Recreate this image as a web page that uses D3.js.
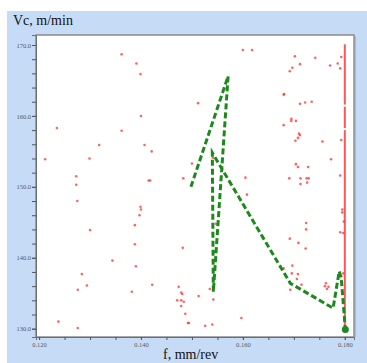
<!DOCTYPE html>
<html>
<head>
<meta charset="utf-8">
<script src="https://cdn.jsdelivr.net/npm/d3@7"></script>
<style>
body { margin: 0; background: #ffffff; }
svg { display: block; }
</style>
</head>
<body>
<svg id="chart" width="367" height="363"></svg>
<script>
// measured points (feed f, mm/rev ; cutting speed Vc, m/min)
const pointF = [0.1362,0.1391,0.1399,0.1400,0.1235,0.1362,0.1318,0.1212,0.1299,0.1273,0.1273,0.1600,0.1512,0.1407,0.1421,0.1500,0.1541,0.1415,0.1418,0.1483,0.1605,0.1618,0.1702,0.1742,0.1793,0.1712,0.1697,0.1692,0.1771,0.1786,0.1791,0.1680,0.1681,0.1712,0.1722,0.1735,0.1695,0.1695,0.1704,0.1680,0.1710,0.1712,0.1708,0.1703,0.1756,0.1793,0.1773,0.1704,0.1708,0.1728,0.1691,0.1713,0.1725,0.1729,0.1791,0.1713,0.1726,0.1275,0.1399,0.1400,0.1397,0.1300,0.1388,0.1388,0.1344,0.1390,0.1284,0.1294,0.1276,0.1382,0.1238,0.1276,0.1608,0.1547,0.1482,0.1422,0.1474,0.1479,0.1481,0.1535,0.1513,0.1542,0.1471,0.1479,0.1484,0.1479,0.1487,0.1492,0.1494,0.1526,0.1540,0.1597,0.1795,0.1795,0.1798,0.1724,0.1724,0.1797,0.1791,0.1692,0.1709,0.1723,0.1680,0.1697,0.1696,0.1708,0.1706,0.1715,0.1693,0.1763,0.1761,0.1768,0.1765,0.1797,0.1793];
const pointV = [168.7,167.4,165.9,160.0,158.3,157.9,155.9,153.9,154.0,151.5,150.3,169.3,161.8,155.9,155.0,153.3,154.1,150.9,150.9,151.2,151.3,169.3,168.4,168.2,168.3,167.3,166.8,166.3,167.1,167.4,166.7,163.0,163.1,161.7,161.9,162.0,159.6,159.3,159.3,158.7,157.5,157.3,156.9,156.5,156.4,156.6,153.9,153.2,152.8,152.8,151.2,151.2,151.2,151.2,151.6,150.4,150.6,148.0,147.2,146.8,146.0,143.9,144.6,141.9,139.6,138.8,137.7,136.1,135.5,135.2,131.0,130.1,148.9,144.8,141.4,136.2,135.9,135.1,134.9,135.6,134.6,134.1,134.0,134.0,133.8,133.2,132.1,130.8,130.8,130.4,130.6,131.5,146.8,146.4,145.1,144.9,144.0,143.5,143.6,142.7,142.1,141.3,138.5,138.9,137.8,137.7,137.0,136.2,135.5,136.4,136.0,135.9,135.6,137.8,137.4];

// red column at f = 0.180
const columnF = 0.180;
const columnSegments = [[130.0, 158.0], [158.3, 161.3], [161.6, 170.1]];

// optimisation path
const pathF = [0.1498, 0.1571, 0.1542, 0.1540, 0.1693, 0.1777, 0.1789, 0.1793, 0.1801];
const pathV = [150.0, 165.6, 135.2, 154.8, 136.4, 132.9, 138.1, 137.1, 129.9];

const xMajor = [0.120, 0.140, 0.160, 0.180];
const xMinor = [0.120,0.125,0.130,0.135,0.140,0.145,0.150,0.155,0.160,0.165,0.170,0.175,0.180];
const yMajor = [130, 140, 150, 160, 170];
const yMinor = [130,132,134,136,138,140,142,144,146,148,150,152,154,156,158,160,162,164,166,168,170];

const xLabel = "f, mm/rev";
const yLabel = "Vc, m/min";

class FeedSpeedChart {
	constructor(svgId) {
		this.svg = d3.select(svgId);
		this.box = {left: 36, right: 354, top: 35, bottom: 337};
	}

	make_scales() {
		this.x = d3.scaleLinear().domain([0.1194, 0.1818]).range([this.box.left, this.box.right]);
		this.y = d3.scaleLinear().domain([128.83, 171.41]).range([this.box.bottom, this.box.top]);
		return this;
	}

	draw_panel() {
		const b = this.box;
		this.svg.append("rect")
			.attr("x", 7).attr("y", 11)
			.attr("width", 360).attr("height", 352)
			.attr("fill", "#c6dbf6");
		this.svg.append("rect")
			.attr("x", b.left).attr("y", b.top)
			.attr("width", b.right - b.left).attr("height", b.bottom - b.top)
			.attr("fill", "#ffffff")
			.attr("stroke", "#8c8c8c")
			.attr("stroke-width", 1.5);
		// light shadow on right side
		this.svg.append("line")
			.attr("x1", b.right + 1.5).attr("x2", b.right + 1.5)
			.attr("y1", b.top + 1).attr("y2", b.bottom)
			.attr("stroke", "#a9b8cc").attr("stroke-width", 1);
		return this;
	}

	draw_axes() {
		const b = this.box;
		const xAxis = d3.axisBottom(this.x).tickValues(xMinor).tickSize(3).tickFormat("");
		const gx = this.svg.append("g").attr("transform", `translate(0,${b.bottom})`).call(xAxis);
		gx.select(".domain").attr("stroke", "#6e6e6e");
		gx.selectAll(".tick line").attr("stroke", "#555");

		const xLab = d3.axisBottom(this.x).tickValues(xMajor).tickSize(3).tickFormat(d3.format(".3f"));
		const gx2 = this.svg.append("g").attr("transform", `translate(0,${b.bottom})`).call(xLab);
		gx2.select(".domain").remove();
		gx2.selectAll(".tick line").attr("stroke", "#555");
		gx2.selectAll("text")
			.attr("dy", "0.6em")
			.attr("fill", "#5a5a5a")
			.style("font-family", "'Liberation Serif', serif")
			.style("font-size", "6.5px");

		const yAxis = d3.axisLeft(this.y).tickValues(yMinor).tickSize(4).tickFormat("");
		const gy = this.svg.append("g").attr("transform", `translate(${b.left},0)`).call(yAxis);
		gy.select(".domain").attr("stroke", "#6e6e6e");
		gy.selectAll(".tick line").attr("stroke", "#555");

		const yLab = d3.axisLeft(this.y).tickValues(yMajor).tickSize(4).tickFormat(d3.format(".1f"));
		const gy2 = this.svg.append("g").attr("transform", `translate(${b.left},0)`).call(yLab);
		gy2.select(".domain").remove();
		gy2.selectAll(".tick line").attr("stroke", "#555");
		gy2.selectAll("text")
			.attr("x", -5)
			.attr("fill", "#5a5a5a")
			.style("font-family", "'Liberation Serif', serif")
			.style("font-size", "6.5px");
		return this;
	}

	add_labels() {
		this.svg.append("text")
			.attr("x", 13).attr("y", 25)
			.style("font-family", "'Liberation Serif', serif")
			.style("font-size", "14px")
			.attr("fill", "#111")
			.text(yLabel);
		this.svg.append("text")
			.attr("x", 163).attr("y", 359)
			.style("font-family", "'Liberation Serif', serif")
			.style("font-size", "14px")
			.attr("fill", "#111")
			.text(xLabel);
		return this;
	}

	plot_points() {
		const x = this.x, y = this.y;
		const pts = pointF.map((f, i) => ({f: f, v: pointV[i]}));
		this.svg.append("g").selectAll("circle")
			.data(pts)
			.enter()
			.append("circle")
			.attr("cx", d => x(d.f))
			.attr("cy", d => y(d.v))
			.attr("r", 1.3)
			.attr("fill", "#ff3030")
			.attr("opacity", 0.75);

		this.svg.append("g").selectAll("line")
			.data(columnSegments)
			.enter()
			.append("line")
			.attr("x1", x(columnF)).attr("x2", x(columnF))
			.attr("y1", d => y(d[0])).attr("y2", d => y(d[1]))
			.attr("stroke", "#ff3a3a")
			.attr("stroke-width", 2)
			.attr("opacity", 0.85);
		return this;
	}

	plot_path() {
		const x = this.x, y = this.y;
		const pts = pathF.map((f, i) => ({f: f, v: pathV[i]}));
		const line = d3.line().x(d => x(d.f)).y(d => y(d.v));
		this.svg.append("path")
			.datum(pts)
			.attr("d", line)
			.attr("fill", "none")
			.attr("stroke", "#1b8a1b")
			.attr("stroke-width", 3)
			.attr("stroke-dasharray", "6,3");
		const last = pts[pts.length - 1];
		this.svg.append("circle")
			.attr("cx", x(last.f)).attr("cy", y(last.v))
			.attr("r", 3.5)
			.attr("fill", "#1b8a1b");
		return this;
	}

	generate() {
		this.make_scales()
			.draw_panel()
			.draw_axes()
			.add_labels()
			.plot_points()
			.plot_path();
	}
}

new FeedSpeedChart("#chart").generate();
</script>
</body>
</html>
